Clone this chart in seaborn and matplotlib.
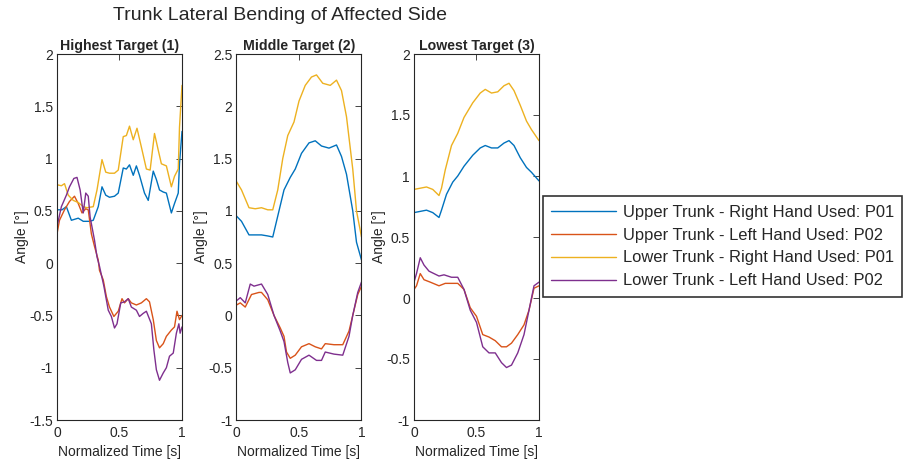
import numpy as np
import pandas as pd
import matplotlib
matplotlib.use("Agg")
import matplotlib.pyplot as plt
import seaborn as sns

# ---------------- data ----------------
labels = ["Upper Trunk - Right Hand Used: P01", "Upper Trunk - Left Hand Used: P02",
          "Lower Trunk - Right Hand Used: P01", "Lower Trunk - Left Hand Used: P02"]
colors = ["#0072BD", "#D95319", "#EDB120", "#7E2F8E"]
titles = ["Highest Target (1)", "Middle Target (2)", "Lowest Target (3)"]
ylims = [(-1.5, 2), (-1, 2.5), (-1, 2)]

# Highest target (1)
hi_ur_t = [0, 0.04, 0.075, 0.115, 0.17, 0.21, 0.26, 0.29, 0.33, 0.36, 0.39, 0.42, 0.46, 0.49, 0.53, 0.555,
           0.58, 0.61, 0.635, 0.66, 0.7, 0.73, 0.77, 0.795, 0.82, 0.85, 0.875, 0.915, 0.94, 0.97, 0.98, 1.0]
hi_ur = [0.51, 0.51, 0.54, 0.41, 0.43, 0.40, 0.40, 0.41, 0.54, 0.73, 0.65, 0.63, 0.64, 0.67, 0.91, 0.90,
         0.94, 0.84, 0.93, 0.84, 0.67, 0.60, 0.88, 0.80, 0.70, 0.68, 0.67, 0.48, 0.57, 0.67, 0.95, 1.26]
hi_ul_t = [0, 0.02, 0.06, 0.1, 0.14, 0.17, 0.2, 0.23, 0.25, 0.275, 0.3, 0.33, 0.34, 0.37, 0.395, 0.42,
           0.455, 0.49, 0.52, 0.54, 0.57, 0.595, 0.635, 0.675, 0.715, 0.74, 0.77, 0.795, 0.82, 0.85, 0.875,
           0.915, 0.94, 0.96, 0.98, 1.0]
hi_ul = [0.28, 0.41, 0.51, 0.59, 0.64, 0.57, 0.48, 0.52, 0.51, 0.28, 0.16, 0.03, -0.07, -0.16, -0.32, -0.42,
         -0.51, -0.46, -0.34, -0.38, -0.34, -0.38, -0.40, -0.38, -0.34, -0.37, -0.54, -0.74, -0.81, -0.77, -0.70,
         -0.64, -0.61, -0.46, -0.54, -0.50]
hi_lr_t = [0, 0.035, 0.06, 0.09, 0.13, 0.17, 0.21, 0.24, 0.29, 0.32, 0.36, 0.39, 0.42, 0.46, 0.49, 0.53,
           0.555, 0.58, 0.61, 0.64, 0.675, 0.715, 0.745, 0.78, 0.81, 0.835, 0.875, 0.915, 0.94, 0.97, 0.98, 1.0]
hi_lr = [0.75, 0.74, 0.76, 0.65, 0.60, 0.58, 0.54, 0.53, 0.54, 0.70, 0.99, 0.87, 0.86, 0.86, 0.89, 1.21,
         1.22, 1.31, 1.18, 1.29, 1.11, 0.90, 0.89, 1.24, 1.08, 0.95, 0.93, 0.73, 0.83, 0.90, 1.30, 1.70]
hi_ll_t = [0, 0.035, 0.075, 0.1, 0.135, 0.16, 0.185, 0.21, 0.23, 0.25, 0.265, 0.3, 0.32, 0.34, 0.375, 0.41,
           0.435, 0.46, 0.48, 0.51, 0.54, 0.57, 0.595, 0.635, 0.66, 0.69, 0.715, 0.755, 0.775, 0.795, 0.82,
           0.85, 0.875, 0.9, 0.93, 0.955, 0.975, 0.985, 1.0]
hi_ll = [0.35, 0.54, 0.65, 0.73, 0.81, 0.82, 0.70, 0.48, 0.67, 0.64, 0.44, 0.22, 0.06, -0.03, -0.22, -0.45,
         -0.51, -0.62, -0.58, -0.38, -0.37, -0.34, -0.42, -0.45, -0.51, -0.48, -0.46, -0.58, -0.83, -1.02, -1.12,
         -1.05, -1.00, -0.89, -0.86, -0.67, -0.58, -0.67, -0.61]

# Middle target (2)
mid_ur_t = [0, 0.04, 0.1, 0.15, 0.2, 0.25, 0.29, 0.33, 0.38, 0.43, 0.47, 0.52, 0.58, 0.63, 0.68, 0.74,
            0.8, 0.84, 0.88, 0.93, 0.96, 1.0]
mid_ur = [0.95, 0.90, 0.77, 0.77, 0.77, 0.76, 0.75, 0.95, 1.20, 1.32, 1.40, 1.55, 1.65, 1.67, 1.62, 1.60,
          1.63, 1.52, 1.35, 1.00, 0.70, 0.53]
mid_ul_t = [0, 0.03, 0.07, 0.12, 0.18, 0.2, 0.25, 0.3, 0.35, 0.38, 0.4, 0.43, 0.47, 0.52, 0.58, 0.63,
            0.68, 0.71, 0.78, 0.85, 0.9, 0.93, 0.97, 1.0]
mid_ul = [0.10, 0.12, 0.08, 0.20, 0.22, 0.22, 0.15, 0.00, -0.12, -0.20, -0.35, -0.41, -0.38, -0.30, -0.27, -0.30,
          -0.32, -0.27, -0.28, -0.28, -0.15, 0.00, 0.20, 0.28]
mid_lr_t = [0, 0.04, 0.1, 0.15, 0.2, 0.25, 0.29, 0.33, 0.37, 0.41, 0.46, 0.5, 0.55, 0.6, 0.64, 0.69,
            0.75, 0.8, 0.84, 0.88, 0.93, 0.96, 1.0]
mid_lr = [1.28, 1.20, 1.03, 1.02, 1.03, 1.01, 1.01, 1.20, 1.50, 1.72, 1.85, 2.05, 2.20, 2.28, 2.30, 2.22,
          2.20, 2.25, 2.15, 1.90, 1.40, 1.00, 0.75]
mid_ll_t = [0, 0.03, 0.07, 0.11, 0.14, 0.2, 0.25, 0.3, 0.35, 0.38, 0.41, 0.43, 0.47, 0.52, 0.58, 0.64,
            0.68, 0.71, 0.78, 0.85, 0.9, 0.93, 0.97, 1.0]
mid_ll = [0.14, 0.17, 0.12, 0.30, 0.28, 0.30, 0.20, 0.00, -0.15, -0.25, -0.45, -0.55, -0.52, -0.42, -0.38, -0.43,
          -0.43, -0.35, -0.37, -0.38, -0.20, 0.00, 0.22, 0.32]

# Lowest target (3)
low_ur_t = [0, 0.05, 0.1, 0.15, 0.2, 0.22, 0.26, 0.31, 0.35, 0.4, 0.47, 0.53, 0.57, 0.62, 0.67, 0.72,
            0.76, 0.8, 0.85, 0.9, 0.94, 1.0]
low_ur = [0.70, 0.71, 0.72, 0.70, 0.66, 0.72, 0.85, 0.95, 1.00, 1.08, 1.17, 1.23, 1.25, 1.23, 1.23, 1.27,
          1.29, 1.25, 1.15, 1.07, 1.03, 0.96]
low_ul_t = [0, 0.02, 0.05, 0.08, 0.13, 0.2, 0.25, 0.3, 0.35, 0.4, 0.45, 0.5, 0.55, 0.6, 0.65, 0.7,
            0.74, 0.78, 0.83, 0.88, 0.92, 0.96, 1.0]
low_ul = [0.07, 0.10, 0.20, 0.15, 0.13, 0.10, 0.12, 0.12, 0.12, 0.07, -0.08, -0.15, -0.30, -0.32, -0.35, -0.40,
          -0.40, -0.37, -0.30, -0.22, -0.10, 0.08, 0.10]
low_lr_t = [0, 0.05, 0.1, 0.15, 0.2, 0.22, 0.25, 0.3, 0.35, 0.4, 0.47, 0.53, 0.57, 0.62, 0.67, 0.72,
            0.76, 0.8, 0.85, 0.9, 0.94, 1.0]
low_lr = [0.89, 0.90, 0.91, 0.89, 0.84, 0.90, 1.05, 1.25, 1.35, 1.48, 1.60, 1.68, 1.71, 1.68, 1.69, 1.74,
          1.76, 1.70, 1.58, 1.45, 1.38, 1.29]
low_ll_t = [0, 0.02, 0.05, 0.08, 0.12, 0.2, 0.24, 0.3, 0.35, 0.4, 0.45, 0.5, 0.55, 0.6, 0.65, 0.7,
            0.74, 0.78, 0.83, 0.88, 0.92, 0.96, 1.0]
low_ll = [0.13, 0.20, 0.33, 0.27, 0.22, 0.18, 0.19, 0.17, 0.17, 0.07, -0.10, -0.20, -0.40, -0.45, -0.45, -0.53,
          -0.57, -0.55, -0.45, -0.30, -0.10, 0.10, 0.13]

panels = [
    [(hi_ur_t, hi_ur), (hi_ul_t, hi_ul), (hi_lr_t, hi_lr), (hi_ll_t, hi_ll)],
    [(mid_ur_t, mid_ur), (mid_ul_t, mid_ul), (mid_lr_t, mid_lr), (mid_ll_t, mid_ll)],
    [(low_ur_t, low_ur), (low_ul_t, low_ul), (low_lr_t, low_lr), (low_ll_t, low_ll)],
]

# ---------------- styling ----------------
sns.set_style("white")
plt.rcParams['font.family'] = ['Liberation Sans', 'DejaVu Sans']
plt.rcParams['xtick.direction'] = 'in'
plt.rcParams['ytick.direction'] = 'in'

fig = plt.figure(figsize=(9.04, 4.61), dpi=100)
lefts = [57 / 904, 236.5 / 904, 414 / 904]
width = 125 / 904
bottom = 41 / 461
height = 366 / 461

for p, series in enumerate(panels):
    ax = fig.add_axes([lefts[p], bottom, width, height])
    for s, (t, v) in enumerate(series):
        df = pd.DataFrame({'t': t, 'angle': v})
        sns.lineplot(data=df, x='t', y='angle', ax=ax, color=colors[s], lw=1.0,
                     label=labels[s], sort=False, estimator=None, legend=False)
    ax.set_xlim(0, 1)
    ax.set_ylim(*ylims[p])
    ax.set_xticks([0, 0.5, 1])
    ax.set_xticklabels(['0', '0.5', '1'])
    yt = np.arange(ylims[p][0], ylims[p][1] + 0.01, 0.5)
    ax.set_yticks(yt)
    ax.set_yticklabels(['%g' % y for y in yt])
    ax.tick_params(axis='both', labelsize=10, colors='#262626', length=4, width=0.6,
                   top=True, right=True, pad=3)
    ax.tick_params(axis='x', pad=4)
    for sp in ax.spines.values():
        sp.set_color('#262626')
        sp.set_linewidth(0.8)
    ax.set_xlabel('Normalized Time [s]', fontsize=10, color='#262626', labelpad=4)
    ax.set_ylabel('Angle [°]', fontsize=10, color='#262626', labelpad=0)
    ax.set_title(titles[p], fontsize=10.2, fontweight='bold', pad=3)
    if p == 2:
        handles, labs = ax.get_legend_handles_labels()

fig.text(280 / 904, 1 - 16 / 461, 'Trunk Lateral Bending of Affected Side', fontsize=14,
         ha='center', va='center')

leg = fig.legend(handles, labs, loc='center left', bbox_to_anchor=(543 / 904, 1 - 246.5 / 461),
                 fontsize=11.9, frameon=True, fancybox=False, handlelength=3.9,
                 handletextpad=0.42, borderpad=0.5, labelspacing=0.48, borderaxespad=0)
leg.get_frame().set_edgecolor('black')
leg.get_frame().set_linewidth(1.2)

fig.savefig('out.png', dpi=100)
